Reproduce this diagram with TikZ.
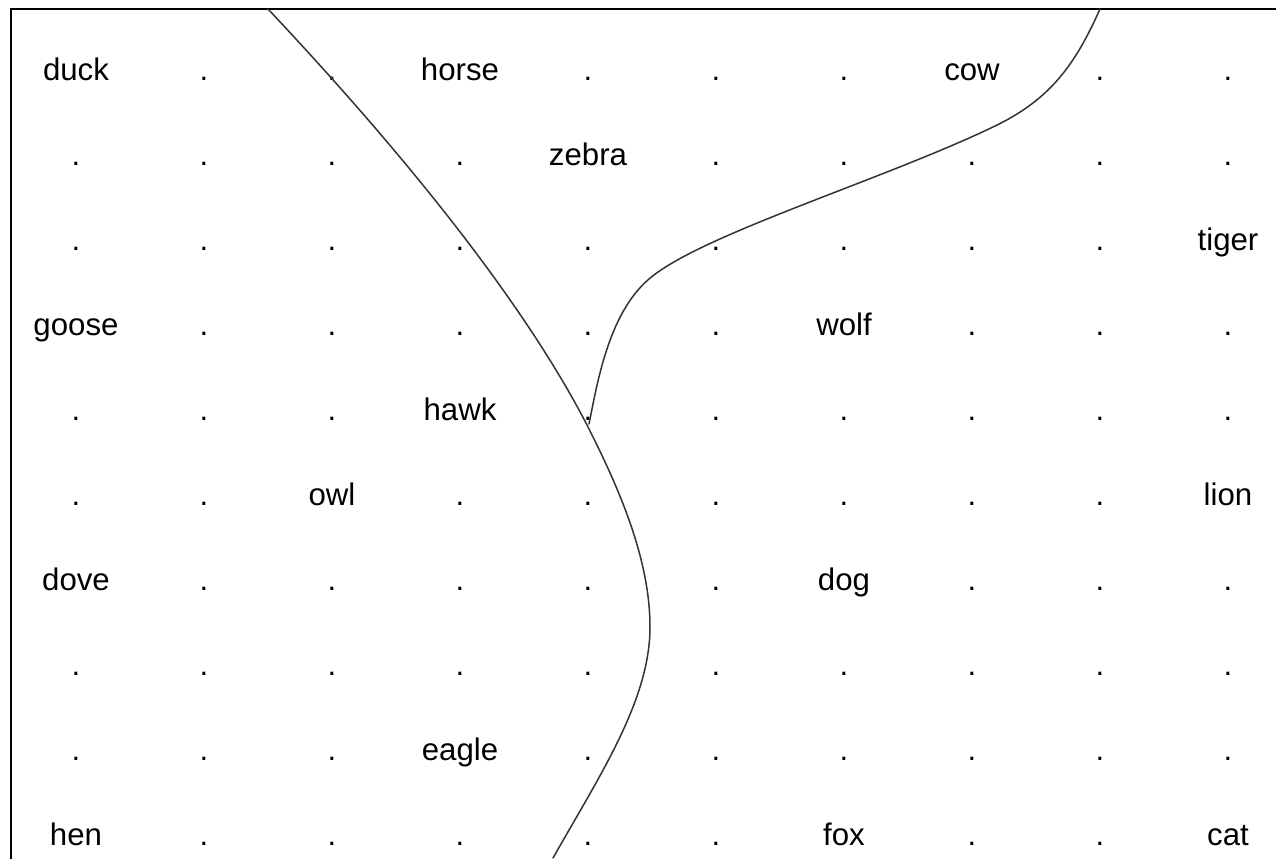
\documentclass[tikz,border=0pt]{standalone}
\usepackage{fontspec}
\setmainfont{Liberation Sans}
\tikzset{
  lbl/.style={anchor=base, inner sep=0pt, font=\fontsize{15.6pt}{18pt}\selectfont},
  frameline/.style={line width=1.1pt, black},
  divider/.style={line width=0.75pt, draw=black!80, line cap=round, line join=round}
}
\begin{document}
\begin{tikzpicture}[x=0.5pt, y=-0.5pt]
\useasboundingbox (0,0) rectangle (1276,858);
\draw[frameline] (11,870) -- (11,9) -- (1290,9);
\foreach \row [count=\r] in {
  {duck,.,.,horse,.,.,.,cow,.,.},
  {.,.,.,.,zebra,.,.,.,.,.},
  {.,.,.,.,.,.,.,.,.,tiger},
  {goose,.,.,.,.,.,wolf,.,.,.},
  {.,.,.,hawk,.,.,.,.,.,.},
  {.,.,owl,.,.,.,.,.,.,lion},
  {dove,.,.,.,.,.,dog,.,.,.},
  {.,.,.,.,.,.,.,.,.,.},
  {.,.,.,eagle,.,.,.,.,.,.},
  {hen,.,.,.,.,.,fox,.,.,cat}} {
  \foreach \w [count=\c] in \row {
    \node[lbl] (n\r-\c) at ({76+128*(\c-1)}, {80+85.1*(\r-1)}) {\w};
  }
}
\coordinate (c1a) at (268,9);
\coordinate (c1b) at (587,425);
\coordinate (c1c) at (650,627);
\coordinate (c1d) at (553,858);
\draw[divider] (c1a) .. controls (410,160) and (525,305) .. (c1b)
  .. controls (620,490) and (650,560) .. (c1c)
  .. controls (650,700) and (600,775) .. (c1d);
\coordinate (c2a) at (1100,9);
\coordinate (c2b) at (993,127);
\coordinate (c2c) at (649,279);
\coordinate (c2d) at (589,424);
\draw[divider] (c2a) .. controls (1075,65) and (1050,100) .. (c2b)
  .. controls (880,181) and (700,235) .. (c2c)
  .. controls (608,314) and (597,385) .. (c2d);
\end{tikzpicture}
\end{document}
